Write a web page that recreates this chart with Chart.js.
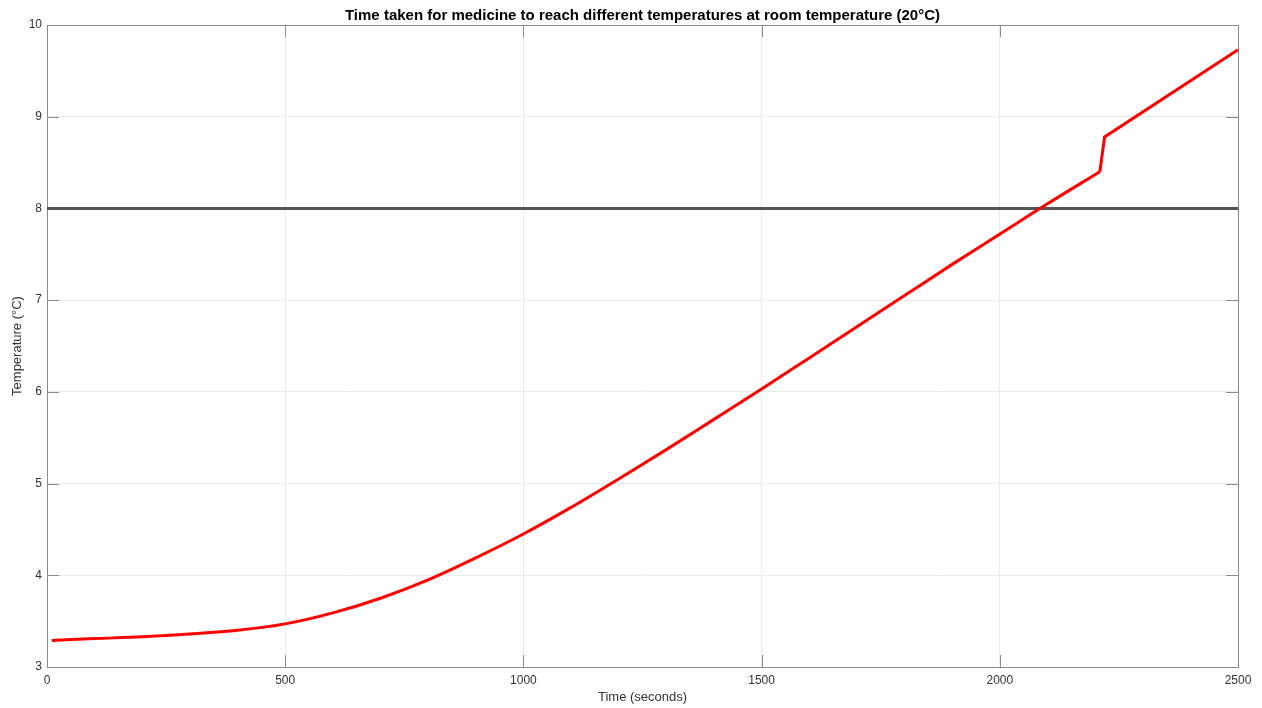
<!DOCTYPE html>
<html lang="en">
<head>
  <meta charset="UTF-8">
  <title>Time taken for medicine to reach different temperatures</title>
  <script src="https://cdn.jsdelivr.net/npm/chart.js"></script>
  <style>
    body { margin: 0; background: #fff; }
    #wrap { width: 1262px; height: 708px; }
  </style>
</head>
<body>
  <div id="wrap"><canvas id="tempChart" width="1262" height="708"></canvas></div>

  <script>
    // Readings taken from the plot (time in s, temperature in °C)
    const timeSeconds = [10, 100, 200, 300, 400, 500, 600, 700, 800, 900, 1000, 1100, 1200,
                         1300, 1400, 1500, 1600, 1700, 1800, 1900, 2000, 2100, 2210, 2220, 2500];
    const medicineTemp = [3.29, 3.31, 3.33, 3.36, 3.40, 3.47, 3.59, 3.75, 3.95, 4.19, 4.45, 4.74, 5.05,
                          5.37, 5.70, 6.03, 6.37, 6.71, 7.05, 7.39, 7.72, 8.05, 8.40, 8.78, 9.73];
    // index where the sudden jump starts (drawn with straight segments after it)
    const jumpIndex = 22;

    // Threshold line
    const limitTime = [0, 2500];
    const limitTemp = [8, 8];

    const xTicks = [0, 500, 1000, 1500, 2000, 2500];
    const yTicks = [3, 4, 5, 6, 7, 8, 9, 10];

    const font = 'Liberation Sans, Arial, Helvetica, sans-serif';

    const points = (xs, ys) => xs.map((t, i) => ({ x: t, y: ys[i] }));
    const redPoints = points(timeSeconds, medicineTemp);

    // MATLAB style box with ticks pointing inward
    const boxPlugin = {
      id: 'matlabBox',
      beforeDatasetsDraw(chart) {
        const { ctx, chartArea: a, scales } = chart;
        const len = 12;
        ctx.save();
        ctx.strokeStyle = '#8a8a8a';
        ctx.lineWidth = 1;
        ctx.beginPath();
        xTicks.forEach(v => {
          const px = Math.round(scales.x.getPixelForValue(v)) + 0.5;
          ctx.moveTo(px, a.bottom); ctx.lineTo(px, a.bottom - len);
          ctx.moveTo(px, a.top); ctx.lineTo(px, a.top + len);
        });
        yTicks.forEach(v => {
          const py = Math.round(scales.y.getPixelForValue(v)) + 0.5;
          ctx.moveTo(a.left, py); ctx.lineTo(a.left + len, py);
          ctx.moveTo(a.right, py); ctx.lineTo(a.right - len, py);
        });
        ctx.stroke();
        ctx.strokeRect(Math.round(a.left) + 0.5, Math.round(a.top) + 0.5,
                       Math.round(a.right - a.left), Math.round(a.bottom - a.top));
        ctx.restore();
      }
    };

    new Chart(document.getElementById('tempChart').getContext('2d'), {
      type: 'line',
      data: {
        datasets: [
          {
            label: 'Medicine temperature',
            data: redPoints.slice(0, jumpIndex + 1),
            borderColor: '#ff0000',
            borderWidth: 3,
            pointRadius: 0,
            cubicInterpolationMode: 'monotone',
            fill: false,
            order: 1
          },
          {
            label: 'Medicine temperature (after jump)',
            data: redPoints.slice(jumpIndex),
            borderColor: '#ff0000',
            borderWidth: 3,
            pointRadius: 0,
            tension: 0,
            fill: false,
            order: 1
          },
          {
            label: '8°C limit',
            data: points(limitTime, limitTemp),
            borderColor: '#555555',
            borderWidth: 3,
            pointRadius: 0,
            fill: false,
            order: 2
          }
        ]
      },
      options: {
        responsive: false,
        animation: false,
        layout: { padding: { left: 0, right: 24, top: 0, bottom: 0 } },
        plugins: {
          legend: { display: false },
          tooltip: { enabled: false },
          title: {
            display: true,
            fullSize: false,
            text: 'Time taken for medicine to reach different temperatures at room temperature (20°C)',
            color: '#000',
            font: { family: font, size: 15, weight: 'bold' },
            padding: { top: 7, bottom: 0 }
          }
        },
        scales: {
          x: {
            type: 'linear',
            min: 0,
            max: 2500,
            afterBuildTicks: s => { s.ticks = xTicks.map(v => ({ value: v })); },
            afterFit: s => { s.height = 41; },
            grid: { color: '#ebebeb', drawTicks: false },
            border: { display: false },
            ticks: { color: '#333', font: { family: font, size: 12 }, padding: 6,
                     autoSkip: false, maxRotation: 0, callback: v => String(v) },
            title: { display: true, text: 'Time (seconds)', color: '#333',
                     font: { family: font, size: 13 }, padding: { top: 0, bottom: 3 } }
          },
          y: {
            min: 3,
            max: 10,
            afterBuildTicks: s => { s.ticks = yTicks.map(v => ({ value: v })); },
            afterFit: s => { s.width = 47; },
            grid: { color: '#ebebeb', drawTicks: false },
            border: { display: false },
            ticks: { color: '#333', font: { family: font, size: 12 }, padding: 5,
                     autoSkip: false, callback: v => String(v) },
            title: { display: true, text: 'Temperature (°C)', color: '#333',
                     font: { family: font, size: 13 }, padding: { top: 10, bottom: 0 } }
          }
        }
      },
      plugins: [boxPlugin]
    });
  </script>
</body>
</html>
